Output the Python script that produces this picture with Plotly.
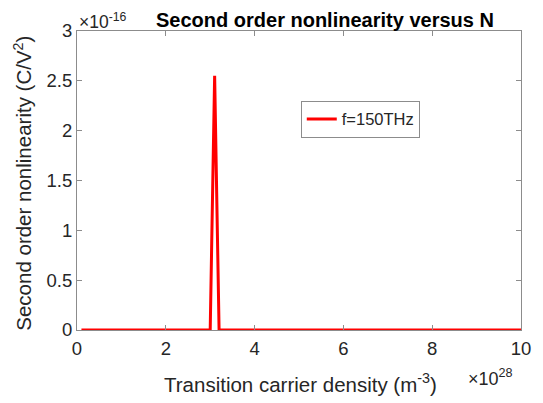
import plotly.graph_objects as go

# Transition carrier density in units of 1e28 m^-3
density = [0.1, 1.0, 2.0, 3.0, 3.1, 3.2, 4.0, 5.0, 6.0, 7.0, 8.0, 8.5, 9.0, 9.5, 10.0]
# Second-order nonlinearity in units of 1e-16 C/V^2
chi2 = [0.0, 0.0, 0.0, 0.0, 2.55, 0.0, 0.0, 0.0, 0.0, 0.0, 0.0, 0.004, 0.006, 0.003, 0.0]
x_ticks = [0, 2, 4, 6, 8, 10]
y_ticks = [0, 0.5, 1, 1.5, 2, 2.5, 3]
y_tick_labels = ["0", "0.5", "1", "1.5", "2", "2.5", "3"]

FONT = "Liberation Sans, Arial, sans-serif"
TXT = "#262626"
AX = "#8c8c8c"

fig = go.Figure()
fig.add_trace(go.Scatter(x=density, y=chi2, mode="lines", name="f=150THz",
                         line=dict(color="#ff0000", width=3)))

axis_common = dict(showgrid=False, zeroline=False, showline=True, linecolor=AX,
                   linewidth=1, mirror="ticks", ticks="inside", ticklen=5,
                   tickcolor=AX, tickfont=dict(family=FONT, size=18.5, color=TXT))

# page body has an 8px margin, so the figure is 8px smaller and offset
fig.update_layout(
    width=535, height=395,
    margin=dict(l=69, r=20, t=22, b=73),
    paper_bgcolor="white", plot_bgcolor="white",
    xaxis=dict(range=[0, 10], tickvals=x_ticks, ticklabelstandoff=2, **axis_common),
    yaxis=dict(range=[0, 3], tickvals=y_ticks, ticktext=y_tick_labels,
               ticklabelstandoff=0, **axis_common),
    showlegend=True,
    legend=dict(x=0.504, y=0.767, xanchor="left", yanchor="top",
                bordercolor=AX, borderwidth=1, bgcolor="white",
                font=dict(family=FONT, size=16.5, color=TXT),
                itemwidth=30, tracegroupgap=0),
    annotations=[
        dict(text="<b>Second order nonlinearity versus N</b>", xref="paper", yref="paper",
             x=(326 - 77) / 446, y=1 + 11 / 300, xanchor="center", yanchor="middle",
             showarrow=False, font=dict(family=FONT, size=20, color="black")),
        dict(text="×10<sup>-16</sup>", xref="paper", yref="paper",
             x=(77 - 77) / 446, y=1 + 10 / 300, xanchor="left", yanchor="middle",
             showarrow=False, font=dict(family=FONT, size=17.5, color=TXT)),
        dict(text="Second order nonlinearity (C/V<sup>2</sup>)", xref="paper", yref="paper",
             x=(23 - 77) / 446, y=(330 - 183) / 300, xanchor="center", yanchor="middle",
             textangle=-90, showarrow=False, font=dict(family=FONT, size=20.5, color=TXT)),
        dict(text="Transition carrier density (m<sup>-3</sup>)", xref="paper", yref="paper",
             x=(302 - 77) / 446, y=-(383 - 330) / 300, xanchor="center", yanchor="middle",
             showarrow=False, font=dict(family=FONT, size=20.5, color=TXT)),
        dict(text="×10<sup>28</sup>", xref="paper", yref="paper",
             x=(468 - 77) / 446, y=-(378 - 330) / 300, xanchor="left", yanchor="middle",
             showarrow=False, font=dict(family=FONT, size=18, color=TXT)),
    ],
)

fig.write_html("out.html")
